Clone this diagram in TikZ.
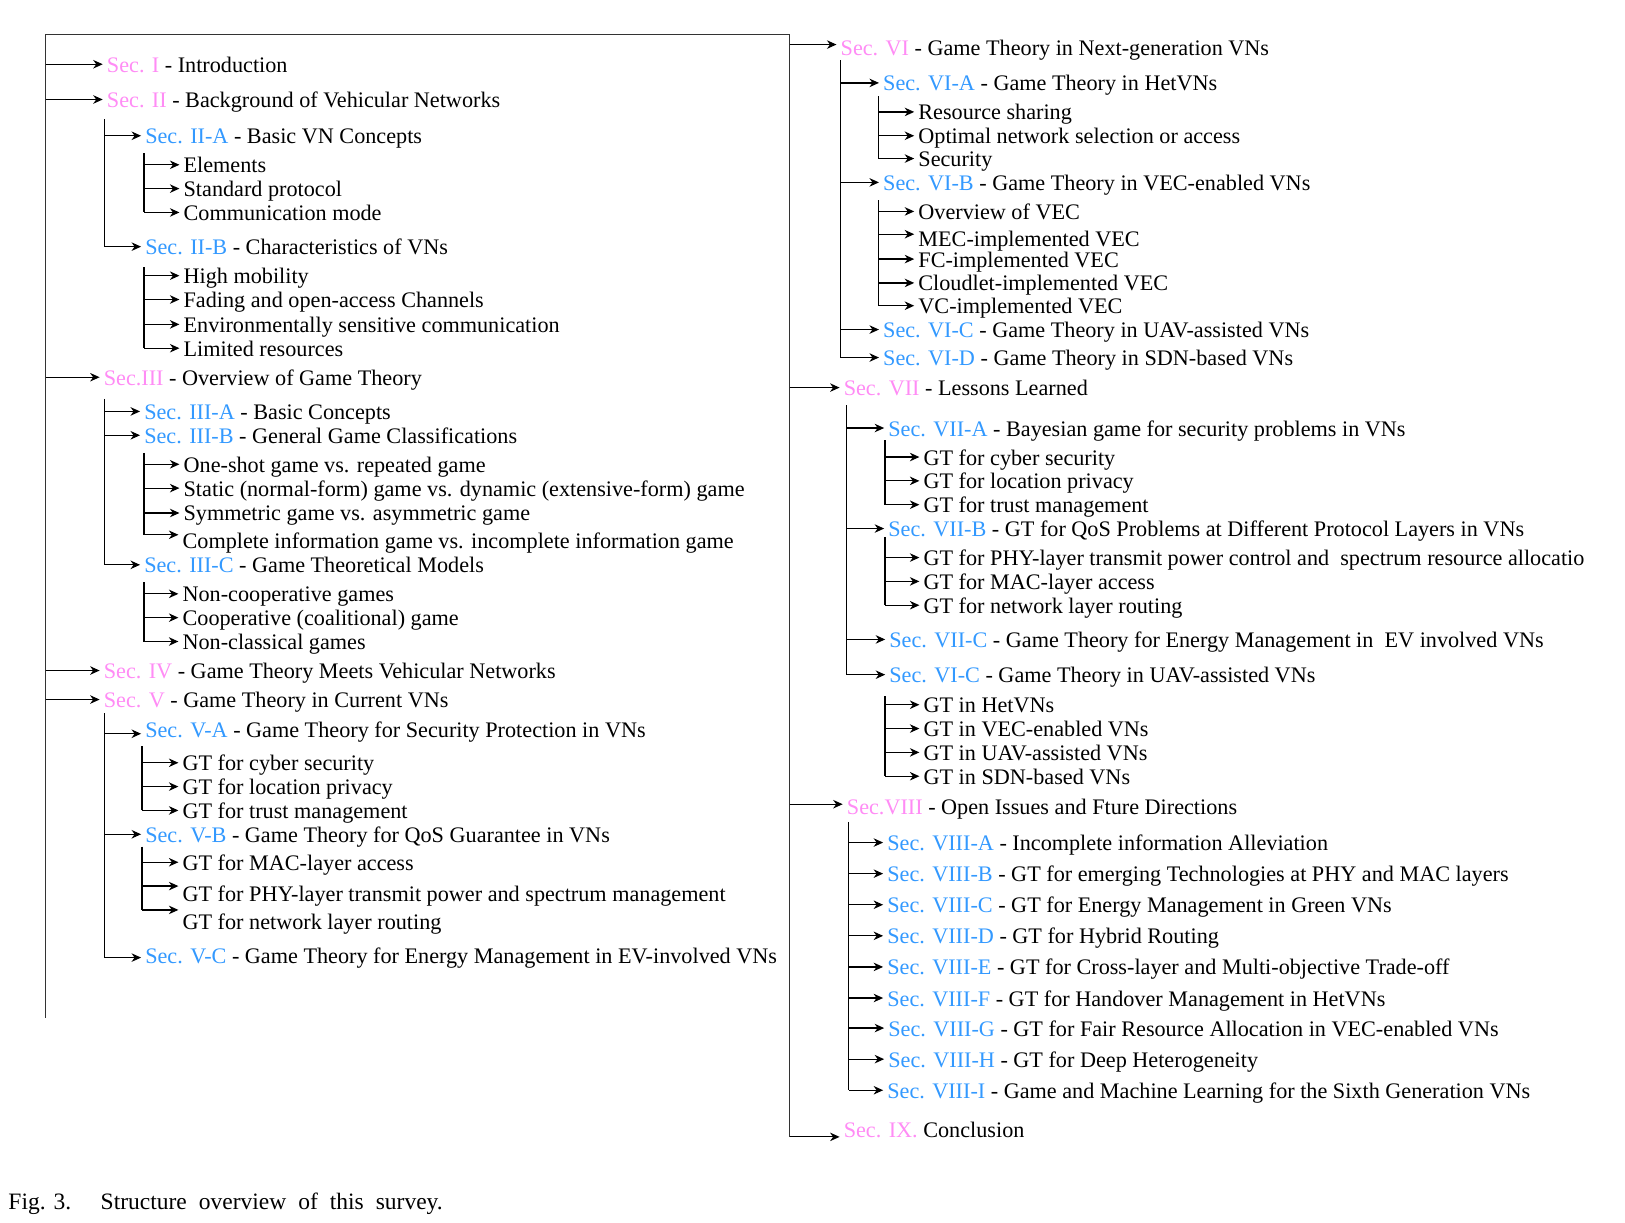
\documentclass[tikz,border=0pt]{standalone}
\usepackage{fontspec}
\setmainfont{Liberation Serif}
\usetikzlibrary{arrows.meta,calc}
\definecolor{secpink}{RGB}{255,140,245}
\definecolor{secblue}{RGB}{51,153,255}
\newcommand\pk[1]{\textcolor{secpink}{#1}}
\newcommand\bl[1]{\textcolor{secblue}{#1}}
% horizontal arrow from a vertical bar (top coordinate #1) to the point #2
\newcommand\br[2]{\draw[arr] (#1 |- #2) -- (#2);}
\newcommand\wsp{\hspace{12pt}}
\tikzset{
  entry/.style={anchor=west, inner xsep=0pt, inner ysep=0pt,
    text height=22pt, text depth=6pt,
    font=\fontsize{22.2}{26}\selectfont},
  arr/.style={line width=1.2pt, -{Stealth[length=9.5pt,width=8.5pt,inset=3pt]}, shorten >=4pt},
  bar/.style={line width=1.2pt},
  frame/.style={line width=1.3pt, black!80},
}
\begin{document}
\begin{tikzpicture}[x=1.0364pt, y=-1.0364pt]
\useasboundingbox (0,0) rectangle (1568,1180);

% ---------------- frame ----------------
\coordinate (Lt) at (44,33);
\coordinate (Lb) at (44,982);
\coordinate (Rt) at (762,33);
\coordinate (Rb) at (762,1097);
\draw[frame] (Lb) -- (Lt) -- (Rt) -- (Rb);

% ---------------- left column ----------------
\node[entry] (s1) at (103,62) {\pk{Sec. I} - Introduction};
\node[entry] (s2) at (103,96) {\pk{Sec. II} - Background of Vehicular Networks};
\node[entry] (s2a) at (140,131) {\bl{Sec. II-A} - Basic VN Concepts};
\node[entry] (e1) at (177,159) {Elements};
\node[entry] (e2) at (177,182) {Standard protocol};
\node[entry] (e3) at (177,205) {Communication mode};
\node[entry] (s2b) at (140,238) {\bl{Sec. II-B} - Characteristics of VNs};
\node[entry] (c1) at (177,266) {High mobility};
\node[entry] (c2) at (177,289) {Fading and open-access Channels};
\node[entry] (c3) at (177,313) {Environmentally sensitive communication};
\node[entry] (c4) at (177,336) {Limited resources};
\node[entry] (s3) at (100,364) {\pk{Sec.III} - Overview of Game Theory};
\node[entry] (s3a) at (139,397) {\bl{Sec. III-A} - Basic Concepts};
\node[entry] (s3b) at (139,420) {\bl{Sec. III-B} - General Game Classifications};
\node[entry] (g1) at (177,448) {One-shot game vs. repeated game};
\node[entry] (g2) at (177,471) {Static (normal-form) game vs. dynamic (extensive-form) game};
\node[entry] (g3) at (177,495) {Symmetric game vs. asymmetric game};
\node[entry] (g4) at (176,522) {Complete information game vs. incomplete information game};
\node[entry] (s3c) at (139,545) {\bl{Sec. III-C} - Game Theoretical Models};
\node[entry] (m1) at (176,573) {Non-cooperative games};
\node[entry] (m2) at (176,596) {Cooperative (coalitional) game};
\node[entry] (m3) at (176,619) {Non-classical games};
\node[entry] (s4) at (100,647) {\pk{Sec. IV} - Game Theory Meets Vehicular Networks};
\node[entry] (s5) at (100,675) {\pk{Sec. V} - Game Theory in Current VNs};
\node[entry] (s5a) at (140,704) {\bl{Sec. V-A} - Game Theory for Security Protection in VNs};
\node[entry] (a1) at (176,736) {GT for cyber security};
\node[entry] (a2) at (176,759) {GT for location privacy};
\node[entry] (a3) at (176,782) {GT for trust management};
\node[entry] (s5b) at (140,805) {\bl{Sec. V-B} - Game Theory for QoS Guarantee in VNs};
\node[entry] (b1) at (176,832) {GT for MAC-layer access};
\node[entry] (b2) at (176,862) {GT for PHY-layer transmit power and spectrum management};
\node[entry] (b3) at (176,889) {GT for network layer routing};
\node[entry] (s5c) at (140,922) {\bl{Sec. V-C} - Game Theory for Energy Management in EV-involved VNs};

% arrow end points that sit off the text centre
\coordinate (g4a) at ($(g4.west)+(0,-6)$);
\coordinate (s5aa) at ($(s5a.west)+(0,4)$);
\coordinate (s5ca) at ($(s5c.west)+(0,2)$);
\coordinate (b2a) at ($(b2.west)+(0,-7)$);
\coordinate (b3a) at ($(b3.west)+(0,-11)$);

% bars
\coordinate (IIt) at (101,115);   \draw[bar] (IIt) -- (IIt |- s2b.west);
\coordinate (IIAt) at (139,148);  \draw[bar] (IIAt) -- (IIAt |- e3.west);
\coordinate (IIBt) at (139,258);  \draw[bar] (IIBt) -- (IIBt |- c4.west);
\coordinate (IIIt) at (101,385);  \draw[bar] (IIIt) -- (IIIt |- s3c.west);
\coordinate (IIIBt) at (139,437); \draw[bar] (IIIBt) -- (IIIBt |- g4a);
\coordinate (IIICt) at (139,562); \draw[bar] (IIICt) -- (IIICt |- m3.west);
\coordinate (Vt) at (101,688);    \draw[bar] (Vt) -- (Vt |- s5ca);
\coordinate (VAt) at (137,720);   \draw[bar] (VAt) -- (VAt |- a3.west);
\coordinate (VBt) at (137,817);   \draw[bar] (VBt) -- (VBt |- b3a);

% arrows
\br{Lt}{s1.west} \br{Lt}{s2.west} \br{Lt}{s3.west} \br{Lt}{s4.west} \br{Lt}{s5.west}
\br{IIt}{s2a.west} \br{IIt}{s2b.west}
\br{IIAt}{e1.west} \br{IIAt}{e2.west} \br{IIAt}{e3.west}
\br{IIBt}{c1.west} \br{IIBt}{c2.west} \br{IIBt}{c3.west} \br{IIBt}{c4.west}
\br{IIIt}{s3a.west} \br{IIIt}{s3b.west} \br{IIIt}{s3c.west}
\br{IIIBt}{g1.west} \br{IIIBt}{g2.west} \br{IIIBt}{g3.west} \br{IIIBt}{g4a}
\br{IIICt}{m1.west} \br{IIICt}{m2.west} \br{IIICt}{m3.west}
\br{Vt}{s5aa} \br{Vt}{s5b.west} \br{Vt}{s5ca}
\br{VAt}{a1.west} \br{VAt}{a2.west} \br{VAt}{a3.west}
\br{VBt}{b1.west} \br{VBt}{b2a} \br{VBt}{b3a}

% ---------------- right column ----------------
\node[entry] (s6) at (811,46) {\pk{Sec. VI} - Game Theory in Next-generation VNs};
\node[entry] (s6a) at (852,80) {\bl{Sec. VI-A} - Game Theory in HetVNs};
\node[entry] (r1) at (886,108) {Resource sharing};
\node[entry] (r2) at (886,131) {Optimal network selection or access};
\node[entry] (r3) at (886,153) {Security};
\node[entry] (s6b) at (852,176) {\bl{Sec. VI-B} - Game Theory in VEC-enabled VNs};
\node[entry] (v1) at (886,204) {Overview of VEC};
\node[entry] (v2) at (886,230) {MEC-implemented VEC};
\node[entry] (v3) at (886,250) {FC-implemented VEC};
\node[entry] (v4) at (886,273) {Cloudlet-implemented VEC};
\node[entry] (v5) at (886,295) {VC-implemented VEC};
\node[entry] (s6c) at (852,318) {\bl{Sec. VI-C} - Game Theory in UAV-assisted VNs};
\node[entry] (s6d) at (852,345) {\bl{Sec. VI-D} - Game Theory in SDN-based VNs};
\node[entry] (s7) at (814,374) {\pk{Sec. VII} - Lessons Learned};
\node[entry] (s7a) at (857,413) {\bl{Sec. VII-A} - Bayesian game for security problems in VNs};
\node[entry] (p1) at (891,441) {GT for cyber security};
\node[entry] (p2) at (891,464) {GT for location privacy};
\node[entry] (p3) at (891,487) {GT for trust management};
\node[entry] (s7b) at (857,510) {\bl{Sec. VII-B} - GT for QoS Problems at Different Protocol Layers in VNs};
\node[entry] (q1) at (891,538) {GT for PHY-layer transmit power control and\ \ spectrum resource allocatio};
\node[entry] (q2) at (891,561) {GT for MAC-layer access};
\node[entry] (q3) at (891,584) {GT for network layer routing};
\node[entry] (s7c) at (858,617) {\bl{Sec. VII-C} - Game Theory for Energy Management in\ \ EV involved VNs};
\node[entry] (s7d) at (858,651) {\bl{Sec. VI-C} - Game Theory in UAV-assisted VNs};
\node[entry] (u1) at (891,680) {GT in HetVNs};
\node[entry] (u2) at (891,703) {GT in VEC-enabled VNs};
\node[entry] (u3) at (891,726) {GT in UAV-assisted VNs};
\node[entry] (u4) at (891,749) {GT in SDN-based VNs};
\node[entry] (s8) at (817,778) {\pk{Sec.VIII} - Open Issues and Fture Directions};
\node[entry] (s8a) at (856,813) {\bl{Sec. VIII-A} - Incomplete information Alleviation};
\node[entry] (s8b) at (856,843) {\bl{Sec. VIII-B} - GT for emerging Technologies at PHY and MAC layers};
\node[entry] (s8c) at (856,873) {\bl{Sec. VIII-C} - GT for Energy Management in Green VNs};
\node[entry] (s8d) at (856,903) {\bl{Sec. VIII-D} - GT for Hybrid Routing};
\node[entry] (s8e) at (856,933) {\bl{Sec. VIII-E} - GT for Cross-layer and Multi-objective Trade-off};
\node[entry] (s8f) at (856,963) {\bl{Sec. VIII-F} - GT for Handover Management in HetVNs};
\node[entry] (s8g) at (857,992) {\bl{Sec. VIII-G} - GT for Fair Resource Allocation in VEC-enabled VNs};
\node[entry] (s8h) at (857,1022) {\bl{Sec. VIII-H} - GT for Deep Heterogeneity};
\node[entry] (s8i) at (856,1052) {\bl{Sec. VIII-I} - Game and Machine Learning for the Sixth Generation VNs};
\node[entry] (s9) at (814,1090) {\pk{Sec. IX.} Conclusion};

\coordinate (s6x) at ($(s6.west)+(0,-3)$);
\coordinate (v2a) at ($(v2.west)+(0,-4)$);
\coordinate (s8x) at ($(s8.west)+(0,-2)$);
\coordinate (s9x) at ($(s9.west)+(0,7)$);

% bars
\coordinate (VIt) at (811,58);     \draw[bar] (VIt) -- (VIt |- s6d.west);
\coordinate (VIAt) at (848,93);    \draw[bar] (VIAt) -- (VIAt |- r3.west);
\coordinate (VIBt) at (848,193);   \draw[bar] (VIBt) -- (VIBt |- v5.west);
\coordinate (VIIt) at (817,391);   \draw[bar] (VIIt) -- (VIIt |- s7d.west);
\coordinate (VIIAt) at (854,425);  \draw[bar] (VIIAt) -- (VIIAt |- p3.west);
\coordinate (VIIBt) at (854,518);  \draw[bar] (VIIBt) -- (VIIBt |- q3.west);
\coordinate (VIIDt) at (854,672);  \draw[bar] (VIIDt) -- (VIIDt |- u4.west);
\coordinate (VIIIt) at (819,793);  \draw[bar] (VIIIt) -- (VIIIt |- s8i.west);

% arrows
\br{Rt}{s6x} \br{Rt}{s7.west} \br{Rt}{s8x} \br{Rt}{s9x}
\br{VIt}{s6a.west} \br{VIt}{s6b.west} \br{VIt}{s6c.west} \br{VIt}{s6d.west}
\br{VIAt}{r1.west} \br{VIAt}{r2.west} \br{VIAt}{r3.west}
\br{VIBt}{v1.west} \br{VIBt}{v2a} \br{VIBt}{v3.west} \br{VIBt}{v4.west} \br{VIBt}{v5.west}
\br{VIIt}{s7a.west} \br{VIIt}{s7b.west} \br{VIIt}{s7c.west} \br{VIIt}{s7d.west}
\br{VIIAt}{p1.west} \br{VIIAt}{p2.west} \br{VIIAt}{p3.west}
\br{VIIBt}{q1.west} \br{VIIBt}{q2.west} \br{VIIBt}{q3.west}
\br{VIIDt}{u1.west} \br{VIIDt}{u2.west} \br{VIIDt}{u3.west} \br{VIIDt}{u4.west}
\br{VIIIt}{s8a.west} \br{VIIIt}{s8b.west} \br{VIIIt}{s8c.west} \br{VIIIt}{s8d.west}
\br{VIIIt}{s8e.west} \br{VIIIt}{s8f.west} \br{VIIIt}{s8g.west} \br{VIIIt}{s8h.west}
\br{VIIIt}{s8i.west}

% ---------------- caption ----------------
\node[entry, font=\fontsize{23.5}{28}\selectfont] (figno) at (8,1159) {Fig. 3.};
\node[entry, font=\fontsize{23.5}{28}\selectfont] (figcap) at (97,1159)
  {Structure\wsp overview\wsp of\wsp this\wsp survey.};
\end{tikzpicture}
\end{document}
